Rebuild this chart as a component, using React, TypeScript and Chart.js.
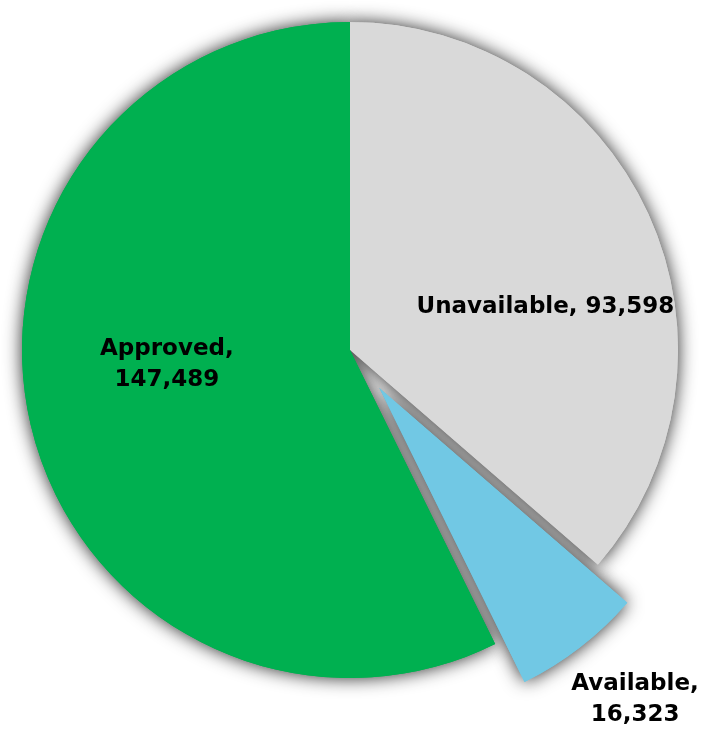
import React, { useEffect, useRef } from "react";
import { Chart, registerables } from "chart.js";

Chart.register(...registerables);

const categories = ["Unavailable", "Available", "Approved"];
const values = [93598, 16323, 147489];
const valueLabels = ["93,598", "16,323", "147,489"];
const colors = ["#D9D9D9", "#71C8E4", "#00B050"];
// explode distance (px) per slice
const explode = [0, 48, 0];
// label placement: [angle clockwise from top in degrees, radius fraction], and line layout
const labelAngles = [77.6, 140.8, 265.6];
const labelRadii = [0.61, 1.375, 0.56];
const labelTwoLines = [false, true, true];

const FONT = "bold 23px 'DejaVu Sans'";

const explodePlugin = {
  id: "explodePlugin",
  afterDatasetsUpdate(chart: any) {
    const meta = chart.getDatasetMeta(0);
    meta.data.forEach((arc: any, i: number) => {
      const d = explode[i] || 0;
      if (!d) return;
      const mid = (arc.startAngle + arc.endAngle) / 2;
      arc.x += Math.cos(mid) * d;
      arc.y += Math.sin(mid) * d;
    });
  },
};

const shadowPlugin = {
  id: "shadowPlugin",
  beforeDatasetsDraw(chart: any) {
    const ctx = chart.ctx;
    const meta = chart.getDatasetMeta(0);
    meta.data.forEach((arc: any) => {
      ctx.save();
      ctx.shadowColor = "rgba(0,0,0,0.85)";
      ctx.shadowBlur = 18;
      ctx.shadowOffsetX = 0;
      ctx.shadowOffsetY = 0;
      arc.draw(ctx);
      ctx.restore();
    });
  },
};

const labelPlugin = {
  id: "labelPlugin",
  afterDatasetsDraw(chart: any) {
    const ctx = chart.ctx;
    const meta = chart.getDatasetMeta(0);
    const base = meta.data[0];
    const cx = (chart.chartArea.left + chart.chartArea.right) / 2;
    const cy = (chart.chartArea.top + chart.chartArea.bottom) / 2;
    const R = base.outerRadius;
    ctx.save();
    ctx.font = FONT;
    ctx.fillStyle = "#000000";
    ctx.textAlign = "center";
    ctx.textBaseline = "middle";
    categories.forEach((c, i) => {
      const a = (labelAngles[i] * Math.PI) / 180;
      const x = cx + Math.sin(a) * R * labelRadii[i];
      const y = cy - Math.cos(a) * R * labelRadii[i];
      if (labelTwoLines[i]) {
        ctx.fillText(c + ",", x, y - 15.5);
        ctx.fillText(valueLabels[i], x, y + 15.5);
      } else {
        ctx.fillText(c + ", " + valueLabels[i], x, y);
      }
    });
    ctx.restore();
  },
};

export default function App() {
  const ref = useRef<HTMLCanvasElement | null>(null);
  useEffect(() => {
    if (!ref.current) return;
    const chart = new Chart(ref.current, {
      type: "pie",
      data: {
        labels: categories,
        datasets: [
          {
            data: values,
            backgroundColor: colors,
            borderWidth: 0,
          },
        ],
      },
      options: {
        animation: false,
        responsive: false,
        radius: 328,
        layout: { padding: { left: 0, right: 4, top: 0, bottom: 33 } },
        plugins: {
          legend: { display: false },
          tooltip: { enabled: false },
        },
        events: [],
      } as any,
      plugins: [explodePlugin, shadowPlugin, labelPlugin],
    });
    return () => chart.destroy();
  }, []);
  return (
    <div style={{ position: "absolute", left: 0, top: 0, width: 704, height: 733, background: "#fff" }}>
      <canvas ref={ref} width={704} height={733} style={{ display: "block" }} />
    </div>
  );
}
